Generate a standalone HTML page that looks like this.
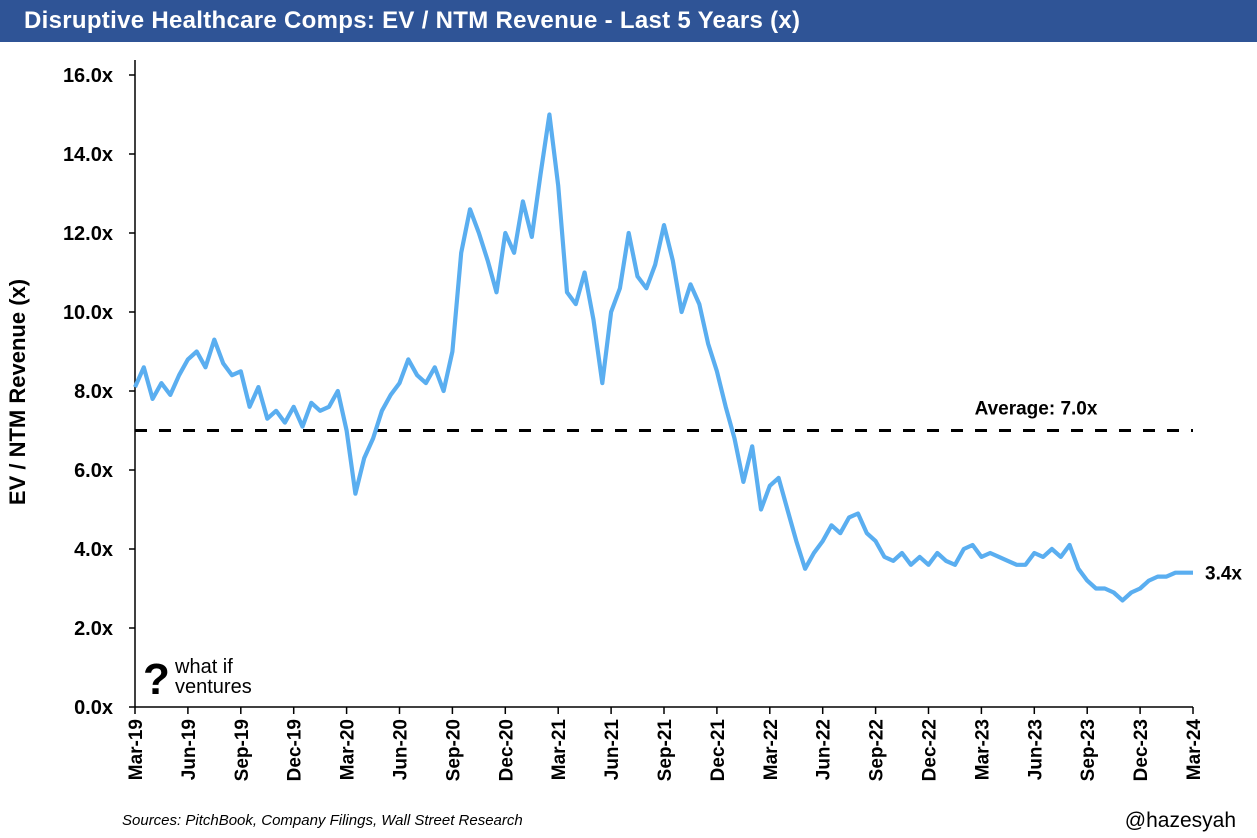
<!DOCTYPE html>
<html><head><meta charset="utf-8"><style>
body{margin:0;background:#fff;font-family:"Liberation Sans",Arial,sans-serif;}
#wrap{position:relative;width:1257px;height:838px;overflow:hidden;}
#title{position:absolute;left:0;top:0;width:1257px;height:42px;background:#2F5496;color:#fff;font-weight:bold;font-size:24px;letter-spacing:0.3px;line-height:42px;padding-left:24px;box-sizing:border-box;}
</style></head><body>
<div id="wrap">
<div id="title">Disruptive Healthcare Comps: EV / NTM Revenue - Last 5 Years (x)</div>
<svg id="chart" width="1257" height="838" style="position:absolute;left:0;top:0"></svg>
</div>
<script>
const xLabels=["Mar-19","Jun-19","Sep-19","Dec-19","Mar-20","Jun-20","Sep-20","Dec-20","Mar-21","Jun-21","Sep-21","Dec-21","Mar-22","Jun-22","Sep-22","Dec-22","Mar-23","Jun-23","Sep-23","Dec-23","Mar-24"];
const yTicks=[0,2,4,6,8,10,12,14,16];
const averageValue=7.0;
const values=[
8.1,8.6,7.8,8.2,7.9,8.4,
8.8,9.0,8.6,9.3,8.7,8.4,
8.5,7.6,8.1,7.3,7.5,7.2,
7.6,7.1,7.7,7.5,7.6,8.0,
7.0,5.4,6.3,6.8,7.5,7.9,
8.2,8.8,8.4,8.2,8.6,8.0,
9.0,11.5,12.6,12.0,11.3,10.5,
12.0,11.5,12.8,11.9,13.5,15.0,
13.2,10.5,10.2,11.0,9.8,8.2,
10.0,10.6,12.0,10.9,10.6,11.2,
12.2,11.3,10.0,10.7,10.2,9.2,
8.5,7.6,6.8,5.7,6.6,5.0,
5.6,5.8,5.0,4.2,3.5,3.9,
4.2,4.6,4.4,4.8,4.9,4.4,
4.2,3.8,3.7,3.9,3.6,3.8,
3.6,3.9,3.7,3.6,4.0,4.1,
3.8,3.9,3.8,3.7,3.6,3.6,
3.9,3.8,4.0,3.8,4.1,3.5,
3.2,3.0,3.0,2.9,2.7,2.9,
3.0,3.2,3.3,3.3,3.4,3.4,3.4];
const NS="http://www.w3.org/2000/svg";
const svg=document.getElementById('chart');
const X0=135,X1=1193,Y0=707,Y16=75;
const xs=i=>X0+(X1-X0)*i/(values.length-1);
const xq=i=>X0+(X1-X0)*i/(xLabels.length-1);
const ys=v=>Y0-(Y0-Y16)*v/16;
function mk(tag,attrs){const e=document.createElementNS(NS,tag);for(const k in attrs)e.setAttribute(k,attrs[k]);svg.appendChild(e);return e;}
let a=mk('line',{x1:X0,y1:60,x2:X0,y2:Y0,stroke:'#000','stroke-width':1.5});


a=mk('line',{x1:X0,y1:Y0,x2:X1,y2:Y0,stroke:'#000','stroke-width':1.5});


yTicks.forEach(v=>{
 const y=ys(v);
 const t=mk('line',{x1:X0-6,y1:y,x2:X0,y2:y,stroke:'#000','stroke-width':1.5});
 
 
 const l=mk('text',{x:113,y:y+7,'text-anchor':'end','font-size':20,'font-weight':'bold'});
 l.textContent=v.toFixed(1)+'x';
 
 
});
xLabels.forEach((s,i)=>{
 const x=xq(i);
 const t=mk('line',{x1:x,y1:Y0,x2:x,y2:Y0+7,stroke:'#000','stroke-width':1.5});
 
 
 const l=mk('text',{x:0,y:0,'text-anchor':'end','font-size':19,'font-weight':'bold',transform:`translate(${x+7},${Y0+12}) rotate(-90)`});
 l.textContent=s;
 
 
});
const ya=ys(averageValue);
let av=mk('line',{x1:X0,y1:ya,x2:X1,y2:ya,stroke:'#000','stroke-width':3,'stroke-dasharray':'12,12'});


let avl=mk('text',{x:1036,y:ya-16,'text-anchor':'middle','font-size':19,'font-weight':'bold'});
avl.textContent='Average: '+averageValue.toFixed(1)+'x';


const d=values.map((v,i)=>(i?'L':'M')+xs(i).toFixed(1)+','+ys(v).toFixed(1)).join('');
let p=mk('path',{d:d,fill:'none',stroke:'#5AAEF0','stroke-width':4.2,'stroke-linejoin':'round'});


const last=values[values.length-1];
let ll=mk('text',{x:1205,y:ys(last)+7,'font-size':19,'font-weight':'bold'});
ll.textContent=last.toFixed(1)+'x';


let yt=mk('text',{x:0,y:0,'text-anchor':'middle','font-size':22,'font-weight':'bold',transform:'translate(25,392) rotate(-90)'});
yt.textContent='EV / NTM Revenue (x)';


let q=mk('text',{x:143,y:694,'font-size':44,'font-weight':'bold'});
q.textContent='?';


let w1=mk('text',{x:175,y:673,'font-size':20});
w1.textContent='what if';


let w2=mk('text',{x:175,y:693,'font-size':20});
w2.textContent='ventures';


let src=mk('text',{x:122,y:825,'font-size':15,'font-style':'italic'});
src.textContent='Sources: PitchBook, Company Filings, Wall Street Research';


let h=mk('text',{x:1236,y:827,'text-anchor':'end','font-size':21});
h.textContent='@hazesyah';


</script>
</body></html>
